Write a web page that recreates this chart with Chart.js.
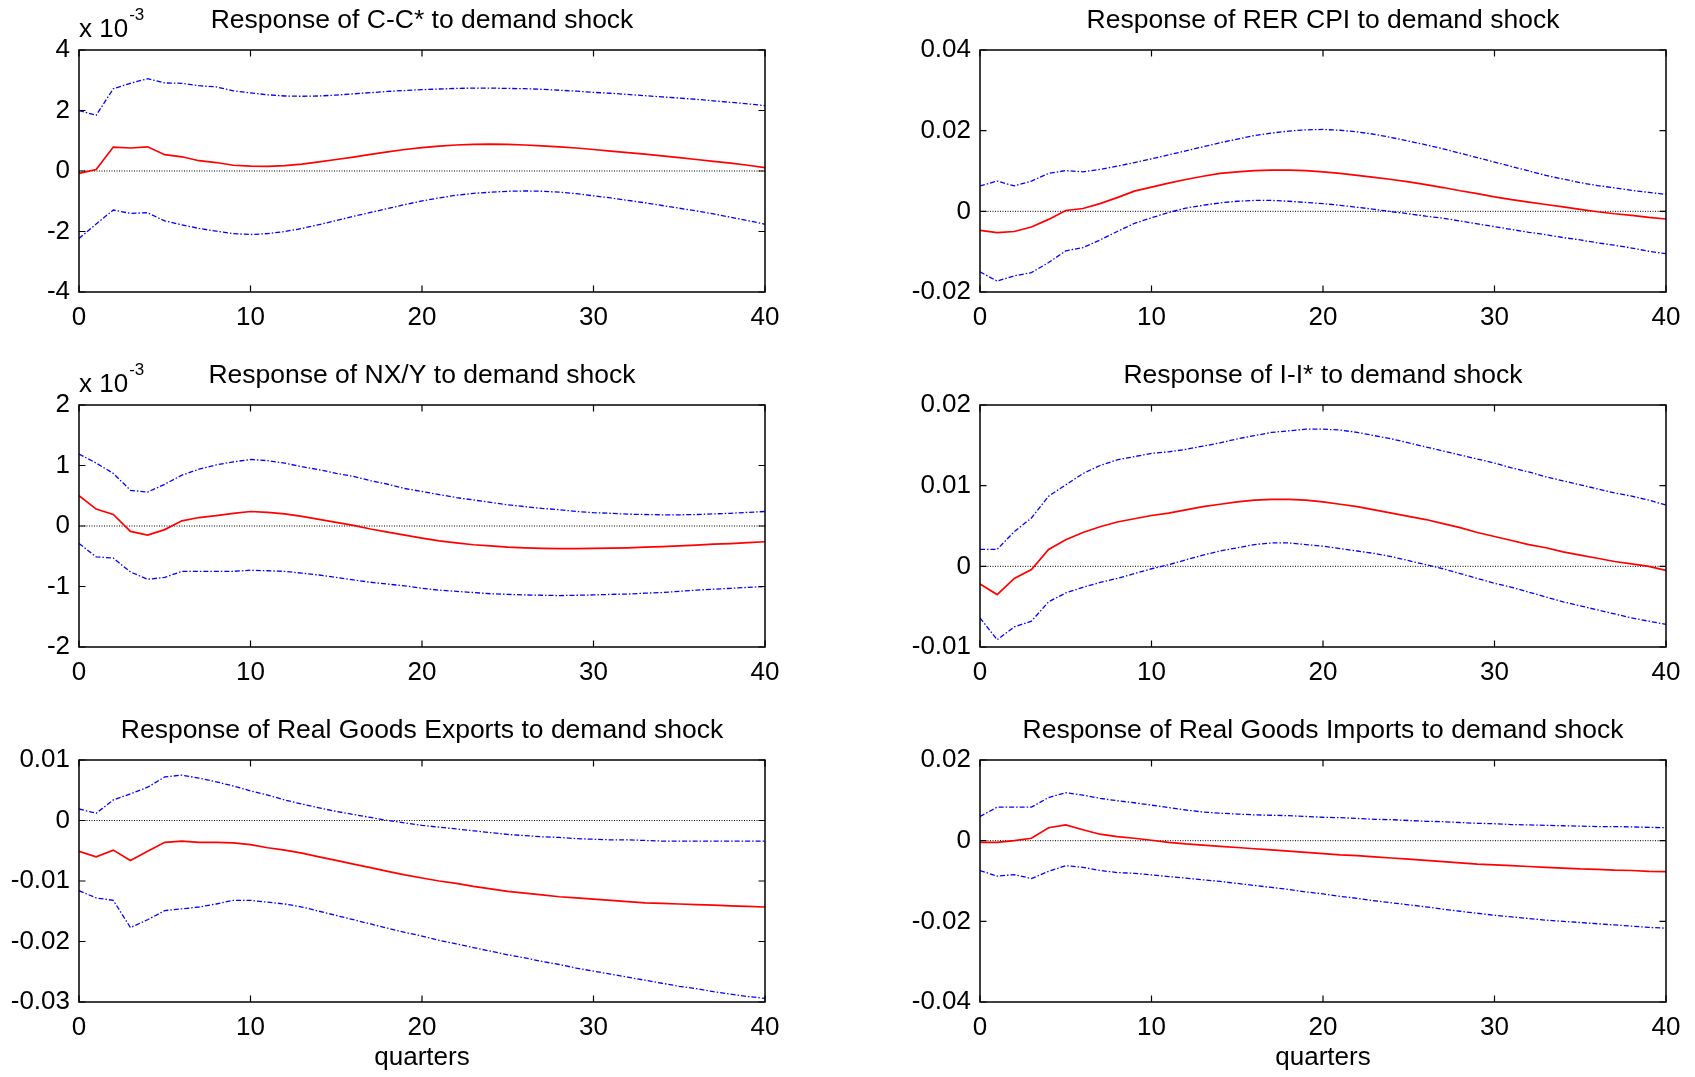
<!DOCTYPE html>
<html>
<head>
<meta charset="utf-8">
<script src="https://cdn.jsdelivr.net/npm/chart.js@4.4.1/dist/chart.umd.min.js"></script>
<style>
  html, body { margin: 0; padding: 0; background: #fff; overflow: hidden; }
  body { width: 1695px; height: 1077px; position: relative; }
  canvas { position: absolute; }
</style>
</head>
<body>
<canvas id="c1" width="786" height="372" style="left:4px;top:0px"></canvas>
<canvas id="c2" width="786" height="372" style="left:905px;top:0px"></canvas>
<canvas id="c3" width="786" height="372" style="left:4px;top:355px"></canvas>
<canvas id="c4" width="786" height="372" style="left:905px;top:355px"></canvas>
<canvas id="c5" width="786" height="372" style="left:4px;top:710px"></canvas>
<canvas id="c6" width="786" height="372" style="left:905px;top:710px"></canvas>
<script>
// horizon (quarters)
const quarters = [0,1,2,3,4,5,6,7,8,9,10,11,12,13,14,15,16,17,18,19,20,
                  21,22,23,24,25,26,27,28,29,30,31,32,33,34,35,36,37,38,39,40];
const xTicks = [0, 10, 20, 30, 40];
const xTickLabels = ['0', '10', '20', '30', '40'];

// C-C* (x 10^-3)
const ccMid = [-0.08,0.05,0.79,0.76,0.80,0.54,0.47,0.34,0.28,0.19,0.16,0.15,0.18,0.23,0.30,0.38,0.46,0.55,0.63,0.71,0.77,
               0.82,0.86,0.88,0.89,0.88,0.86,0.83,0.80,0.76,0.71,0.66,0.61,0.56,0.50,0.44,0.38,0.32,0.26,0.19,0.11];
const ccUp = [2.00,1.84,2.72,2.90,3.05,2.91,2.90,2.82,2.78,2.65,2.58,2.52,2.48,2.47,2.48,2.51,2.55,2.59,2.63,2.66,2.69,
              2.71,2.73,2.74,2.74,2.73,2.72,2.70,2.67,2.64,2.60,2.57,2.53,2.49,2.45,2.41,2.37,2.32,2.27,2.22,2.16];
const ccLow = [-2.23,-1.75,-1.29,-1.40,-1.38,-1.65,-1.78,-1.90,-1.99,-2.07,-2.10,-2.07,-2.00,-1.90,-1.77,-1.64,-1.50,-1.37,-1.24,-1.11,-0.99,
               -0.89,-0.80,-0.74,-0.70,-0.67,-0.66,-0.67,-0.70,-0.75,-0.82,-0.89,-0.97,-1.05,-1.14,-1.23,-1.32,-1.42,-1.53,-1.64,-1.76];
const ccTicks = [-4, -2, 0, 2, 4];
const ccTickLabels = ['-4', '-2', '0', '2', '4'];

// RER CPI
const rerMid = [-0.0047,-0.0053,-0.0050,-0.0039,-0.0020,0.0002,0.0007,0.0019,0.0034,0.0050,0.0060,0.0070,0.0079,0.0087,0.0094,0.0098,0.0101,0.0102,0.0102,0.0101,0.0098,
                0.0094,0.0089,0.0084,0.0079,0.0073,0.0066,0.0059,0.0051,0.0044,0.0036,0.0029,0.0023,0.0017,0.0011,0.0005,-0.0001,-0.0006,-0.0010,-0.0015,-0.0019];
const rerUp = [0.0063,0.0075,0.0063,0.0075,0.0094,0.0101,0.0098,0.0104,0.0112,0.0121,0.0130,0.0140,0.0150,0.0160,0.0170,0.0179,0.0188,0.0194,0.0199,0.0202,0.0203,
               0.0201,0.0197,0.0191,0.0183,0.0174,0.0165,0.0155,0.0144,0.0133,0.0122,0.0111,0.0100,0.0089,0.0080,0.0071,0.0064,0.0058,0.0052,0.0047,0.0042];
const rerLow = [-0.0150,-0.0173,-0.0160,-0.0152,-0.0127,-0.0098,-0.0090,-0.0071,-0.0050,-0.0030,-0.0016,-0.0003,0.0008,0.0015,0.0021,0.0025,0.0027,0.0027,0.0025,0.0022,0.0019,
                0.0015,0.0010,0.0005,-0.0001,-0.0006,-0.0012,-0.0017,-0.0024,-0.0031,-0.0038,-0.0045,-0.0052,-0.0058,-0.0065,-0.0071,-0.0078,-0.0084,-0.0091,-0.0099,-0.0105];
const rerTicks = [-0.02, 0, 0.02, 0.04];
const rerTickLabels = ['-0.02', '0', '0.02', '0.04'];

// NX/Y (x 10^-3)
const nxMid = [0.50,0.28,0.19,-0.09,-0.15,-0.06,0.085,0.14,0.17,0.21,0.24,0.225,0.20,0.16,0.11,0.06,0.01,-0.05,-0.10,-0.15,-0.20,
               -0.245,-0.28,-0.31,-0.33,-0.35,-0.36,-0.37,-0.375,-0.375,-0.37,-0.365,-0.36,-0.35,-0.34,-0.33,-0.315,-0.30,-0.29,-0.275,-0.26];
const nxUp = [1.19,1.04,0.87,0.59,0.56,0.69,0.84,0.94,1.01,1.06,1.10,1.08,1.04,0.98,0.93,0.87,0.82,0.75,0.69,0.62,0.57,
              0.52,0.47,0.43,0.39,0.35,0.32,0.29,0.27,0.24,0.22,0.21,0.195,0.19,0.185,0.185,0.19,0.20,0.21,0.225,0.24];
const nxLow = [-0.29,-0.51,-0.53,-0.76,-0.88,-0.85,-0.75,-0.75,-0.75,-0.75,-0.73,-0.74,-0.75,-0.78,-0.81,-0.85,-0.89,-0.93,-0.96,-0.99,-1.03,
               -1.06,-1.08,-1.10,-1.12,-1.13,-1.14,-1.145,-1.15,-1.145,-1.14,-1.13,-1.125,-1.11,-1.10,-1.08,-1.06,-1.045,-1.03,-1.015,-1.00];
const nxTicks = [-2, -1, 0, 1, 2];
const nxTickLabels = ['-2', '-1', '0', '1', '2'];

// I-I*
const iiMid = [-0.0022,-0.0035,-0.0015,-0.0004,0.0021,0.0033,0.0042,0.0049,0.0055,0.0059,0.0063,0.0066,0.0070,0.0074,0.0077,0.0080,0.0082,0.0083,0.0083,0.0082,0.0080,
               0.0077,0.0074,0.0070,0.0066,0.0062,0.0058,0.0053,0.0048,0.0042,0.0037,0.0032,0.0027,0.0023,0.0018,0.0014,0.0010,0.0006,0.0003,0.0000,-0.0005];
const iiUp = [0.0021,0.0021,0.0043,0.0060,0.0087,0.0101,0.0115,0.0125,0.0132,0.0136,0.0140,0.0142,0.0145,0.0149,0.0153,0.0158,0.0162,0.0166,0.0168,0.0170,0.0170,
              0.0169,0.0166,0.0162,0.0158,0.0153,0.0148,0.0143,0.0138,0.0133,0.0128,0.0122,0.0117,0.0111,0.0106,0.0101,0.0096,0.0091,0.0087,0.0082,0.0076];
const iiLow = [-0.0064,-0.0091,-0.0075,-0.0068,-0.0044,-0.0033,-0.0026,-0.0020,-0.0015,-0.0009,-0.0003,0.0002,0.0008,0.0014,0.0019,0.0023,0.0027,0.0029,0.0029,0.0027,0.0025,
               0.0022,0.0019,0.0016,0.0012,0.0007,0.0002,-0.0003,-0.0009,-0.0015,-0.0021,-0.0026,-0.0032,-0.0038,-0.0044,-0.0049,-0.0054,-0.0059,-0.0064,-0.0068,-0.0072];
const iiTicks = [-0.01, 0, 0.01, 0.02];
const iiTickLabels = ['-0.01', '0', '0.01', '0.02'];

// Real goods exports
const exMid = [-0.0051,-0.0060,-0.0049,-0.0066,-0.0051,-0.0036,-0.0034,-0.0036,-0.0036,-0.0037,-0.0040,-0.0045,-0.0049,-0.0054,-0.0060,-0.0066,-0.0072,-0.0078,-0.0084,-0.0090,-0.0095,
               -0.0100,-0.0104,-0.0109,-0.0113,-0.0117,-0.0120,-0.0123,-0.0126,-0.0128,-0.0130,-0.0132,-0.0134,-0.0136,-0.0137,-0.0138,-0.0139,-0.0140,-0.0141,-0.0142,-0.0143];
const exUp = [0.0019,0.0012,0.0034,0.0044,0.0055,0.0072,0.0075,0.0070,0.0064,0.0057,0.0049,0.0042,0.0034,0.0027,0.0021,0.0015,0.0010,0.0005,0.0000,-0.0004,-0.0008,
              -0.0011,-0.0014,-0.0017,-0.0020,-0.0023,-0.0025,-0.0027,-0.0028,-0.0030,-0.0031,-0.0032,-0.0032,-0.0033,-0.0034,-0.0034,-0.0034,-0.0034,-0.0034,-0.0034,-0.0034];
const exLow = [-0.0116,-0.0128,-0.0132,-0.0177,-0.0164,-0.0149,-0.0146,-0.0143,-0.0138,-0.0132,-0.0132,-0.0135,-0.0138,-0.0143,-0.0150,-0.0157,-0.0164,-0.0171,-0.0178,-0.0185,-0.0191,
               -0.0198,-0.0204,-0.0210,-0.0216,-0.0222,-0.0227,-0.0233,-0.0238,-0.0244,-0.0249,-0.0254,-0.0259,-0.0264,-0.0269,-0.0274,-0.0278,-0.0283,-0.0287,-0.0291,-0.0294];
const exTicks = [-0.03, -0.02, -0.01, 0, 0.01];
const exTickLabels = ['-0.03', '-0.02', '-0.01', '0', '0.01'];

// Real goods imports
const imMid = [-0.0004,-0.0004,0.0000,0.0006,0.0032,0.0039,0.0027,0.0016,0.0010,0.0006,0.0001,-0.0004,-0.0008,-0.0011,-0.0014,-0.0017,-0.0020,-0.0023,-0.0026,-0.0029,-0.0032,
               -0.0035,-0.0037,-0.0040,-0.0043,-0.0046,-0.0049,-0.0052,-0.0055,-0.0058,-0.0060,-0.0062,-0.0064,-0.0066,-0.0068,-0.0070,-0.0071,-0.0073,-0.0074,-0.0076,-0.0077];
const imUp = [0.0060,0.0083,0.0083,0.0083,0.0107,0.0119,0.0113,0.0105,0.0099,0.0094,0.0088,0.0082,0.0076,0.0071,0.0068,0.0066,0.0064,0.0063,0.0062,0.0060,0.0058,
              0.0057,0.0055,0.0053,0.0052,0.0050,0.0048,0.0047,0.0045,0.0043,0.0042,0.0040,0.0039,0.0038,0.0037,0.0036,0.0035,0.0035,0.0034,0.0033,0.0032];
const imLow = [-0.0074,-0.0088,-0.0084,-0.0094,-0.0076,-0.0062,-0.0066,-0.0074,-0.0079,-0.0081,-0.0085,-0.0089,-0.0093,-0.0097,-0.0101,-0.0106,-0.0111,-0.0116,-0.0121,-0.0127,-0.0132,
               -0.0138,-0.0143,-0.0149,-0.0154,-0.0159,-0.0164,-0.0170,-0.0175,-0.0180,-0.0185,-0.0189,-0.0193,-0.0197,-0.0200,-0.0203,-0.0206,-0.0209,-0.0212,-0.0215,-0.0217];
const imTicks = [-0.04, -0.02, 0, 0.02];
const imTickLabels = ['-0.04', '-0.02', '0', '0.02'];

const FONT = '"Liberation Sans", Arial, Helvetica, sans-serif';
Chart.defaults.font.family = FONT;
Chart.defaults.font.size = 26;
Chart.defaults.color = '#000';

// matlab-like box, inward ticks and the texts round the axes
const framePlugin = {
  id: 'frame',
  afterDatasetsDraw(chart, args, opts) {
    const ctx = chart.ctx;
    const a = chart.chartArea;
    const sx = chart.scales.x, sy = chart.scales.y;
    ctx.save();
    ctx.strokeStyle = '#000';
    ctx.lineWidth = 1.5;
    ctx.strokeRect(a.left, a.top, a.right - a.left, a.bottom - a.top);
    ctx.lineWidth = 1.2;
    ctx.beginPath();
    sx.ticks.forEach(t => {
      const px = sx.getPixelForValue(t.value);
      ctx.moveTo(px, a.bottom); ctx.lineTo(px, a.bottom - 6.5);
      ctx.moveTo(px, a.top); ctx.lineTo(px, a.top + 6.5);
    });
    sy.ticks.forEach(t => {
      const py = sy.getPixelForValue(t.value);
      ctx.moveTo(a.left, py); ctx.lineTo(a.left + 6.5, py);
      ctx.moveTo(a.right, py); ctx.lineTo(a.right - 6.5, py);
    });
    ctx.stroke();

    ctx.fillStyle = '#000';
    ctx.textBaseline = 'alphabetic';
    ctx.font = '26.5px ' + FONT;
    ctx.textAlign = 'center';
    ctx.fillText(opts.title, (a.left + a.right) / 2, a.top - 22);
    if (opts.xTitle) {
      ctx.font = '26px ' + FONT;
      ctx.fillText(opts.xTitle, (a.left + a.right) / 2, a.bottom + 63);
    }
    if (opts.exponent) {
      ctx.font = '26px ' + FONT;
      ctx.textAlign = 'left';
      ctx.fillText('x 10', a.left, a.top - 13.5);
      const w = ctx.measureText('x 10').width;
      ctx.font = '17px ' + FONT;
      ctx.fillText(opts.exponent, a.left + w + 1, a.top - 30);
    }
    ctx.restore();
  }
};

function pts(values) {
  return quarters.map((q, i) => ({ x: q, y: values[i] }));
}

function makePanel(id, title, mid, up, low, yTicks, yLabels, extra) {
  const zero = quarters.map(() => 0);
  new Chart(document.getElementById(id), {
    type: 'line',
    data: {
      datasets: [
        { data: pts(mid), borderColor: '#ff0000', borderWidth: 1.7 },
        { data: pts(up), borderColor: '#0000ff', borderWidth: 1.3, borderDash: [5, 2, 1.5, 2] },
        { data: pts(low), borderColor: '#0000ff', borderWidth: 1.3, borderDash: [5, 2, 1.5, 2] },
        { data: pts(zero), borderColor: '#000000', borderWidth: 1, borderDash: [1, 1.5] }
      ]
    },
    options: {
      responsive: false,
      animation: false,
      devicePixelRatio: 1,
      layout: { padding: { top: 50, right: 25, left: 0, bottom: 0 } },
      elements: { point: { radius: 0 }, line: { tension: 0 } },
      plugins: {
        legend: { display: false },
        tooltip: { enabled: false },
        frame: { title: title, exponent: extra.exponent, xTitle: extra.xTitle }
      },
      scales: {
        x: {
          type: 'linear', min: 0, max: 40,
          grid: { display: false, drawTicks: false }, border: { display: false },
          afterBuildTicks: s => { s.ticks = xTicks.map(v => ({ value: v })); },
          ticks: { padding: 10, maxRotation: 0, callback: (v, i) => xTickLabels[i] },
          afterFit: s => { s.height = 80; }
        },
        y: {
          type: 'linear', min: yTicks[0], max: yTicks[yTicks.length - 1],
          grid: { display: false, drawTicks: false }, border: { display: false },
          afterBuildTicks: s => { s.ticks = yTicks.map(v => ({ value: v })); },
          ticks: { padding: 9, callback: (v, i) => yLabels[i] },
          afterFit: s => { s.width = 75; }
        }
      }
    },
    plugins: [framePlugin]
  });
}

makePanel('c1', 'Response of C-C* to demand shock', ccMid, ccUp, ccLow, ccTicks, ccTickLabels, { exponent: '-3' });
makePanel('c2', 'Response of RER CPI to demand shock', rerMid, rerUp, rerLow, rerTicks, rerTickLabels, {});
makePanel('c3', 'Response of NX/Y to demand shock', nxMid, nxUp, nxLow, nxTicks, nxTickLabels, { exponent: '-3' });
makePanel('c4', 'Response of I-I* to demand shock', iiMid, iiUp, iiLow, iiTicks, iiTickLabels, {});
makePanel('c5', 'Response of Real Goods Exports to demand shock', exMid, exUp, exLow, exTicks, exTickLabels, { xTitle: 'quarters' });
makePanel('c6', 'Response of Real Goods Imports to demand shock', imMid, imUp, imLow, imTicks, imTickLabels, { xTitle: 'quarters' });
</script>
</body>
</html>
